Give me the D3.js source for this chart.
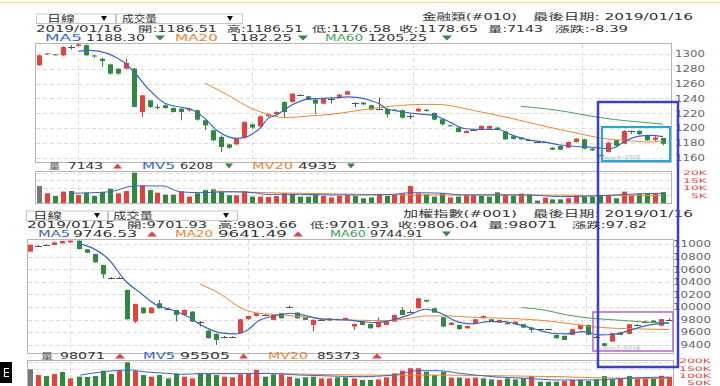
<!DOCTYPE html>
<html>
<head>
<meta charset="utf-8">
<script src="https://cdn.jsdelivr.net/npm/d3@7"></script>
<style>
  body { margin: 0; background: #fff; }
  svg { display: block; }
  text { font-family: "DejaVu Sans", "Noto Sans CJK TC", sans-serif; }
</style>
</head>
<body>
<svg id="chart" width="720" height="386"></svg>
<script>
const N = 80;

// 金融類 (#010) daily candles
const topOpen = [1284.7,1300,1299.5,1298.2,1309.5,1311,1312,1298,1293.7,1286,
  1280,1280.2,1280.2,1221.6,1237.4,1228.4,1230.7,1227,1226.1,1223.9,
  1223.9,1210.4,1196.9,1187.9,1177.9,1177.9,1187,1205,1202.3,1215.8,
  1218.5,1235.2,1235.2,1244,1242.8,1238.3,1232.9,1239.7,1241.9,1245.1,
  1234.3,1234.3,1230.7,1226,1225.7,1224.8,1223.9,1215.8,1222.5,1224.8,
  1220.3,1211.8,1203.6,1200.5,1193.3,1197.8,1197.8,1199.1,1200.5,1195.5,
  1188.8,1187,1183.3,1181.1,1181.1,1173.4,1175.7,1173.4,1181.1,1184.7,
  1172.1,1163,1167.6,1183.4,1178.8,1196,1196,1190.1,1184,1186.51];
const topHigh = [1299,1301.5,1300,1310.5,1312,1315,1313,1299,1294.5,1287,
  1281,1293.7,1281,1245,1238,1232,1232,1228,1227,1227,
  1225,1211,1197.5,1190,1179,1186.5,1209,1206,1217,1219.5,
  1222.5,1236,1247,1245.5,1243.5,1239,1240.5,1241.5,1246,1250.5,
  1234.6,1235,1231.5,1241,1226.5,1226,1225,1219,1227,1225.5,
  1221,1212.5,1204.5,1201,1196.8,1199,1203.5,1203.5,1201.5,1196.5,
  1189.5,1187.8,1184.5,1182.5,1182,1174,1176.5,1182,1186.5,1185.5,
  1172.8,1164,1181,1184,1197,1196.5,1196.8,1191,1189,1186.51];
const topLow = [1284,1299.5,1298.5,1297,1306,1310,1297,1295,1282.5,1272,
  1272,1279,1228,1214.9,1227,1225,1226,1221,1210.4,1222,
  1210,1196.9,1182,1167.6,1172,1177,1186,1199,1201,1215,
  1218,1214.9,1234,1243,1237.5,1218.5,1232,1233,1241,1244.5,
  1228.4,1231,1224,1225,1214,1223,1213,1212,1221.5,1222,
  1210.5,1203,1202.5,1194,1192.8,1196.5,1197,1198.5,1197,1184,
  1184.5,1183.5,1182,1180,1179.5,1170,1170,1173,1180.5,1171,
  1169,1162,1167,1175.5,1178,1192,1191,1182.5,1182,1176.58];
const topClose = [1298.2,1300.8,1299,1309.5,1309.5,1313,1298.2,1297,1290.6,1273.5,
  1273.5,1287.9,1228.4,1244.2,1228.4,1228,1227,1221.6,1221.6,1226.1,
  1211.3,1203.6,1183.4,1174.3,1173.4,1185.6,1208.1,1200.5,1215.8,1218.5,
  1221.6,1221.6,1246.4,1244,1238.3,1232.9,1239.7,1239.7,1245.1,1249.6,
  1234.3,1232,1224.8,1226,1218.5,1224.4,1214,1215.8,1226.1,1223,
  1211.3,1205,1203.2,1194.6,1196,1197.8,1202.7,1202.7,1197.8,1184.7,
  1185.2,1184.7,1183.3,1181.1,1181.1,1170.7,1170.7,1181.1,1185.6,1172.1,
  1169.8,1163,1180.2,1176.1,1196,1196,1191.5,1183.4,1187.04,1178.65];
const topVolume = [11200,6400,4600,7500,7900,5300,6800,4600,7200,9400,
  6400,7900,20000,11600,8500,6800,5500,5500,7700,4200,
  6400,8500,9000,7700,5100,5100,7700,4200,4200,4000,
  4600,6400,6000,4200,4200,5500,4600,3700,4600,5100,
  4600,3100,3700,6000,4600,5300,6400,11200,6400,5700,
  4200,6400,3700,4200,5100,5100,4600,4200,7000,5500,
  4800,6200,5700,1600,3500,2400,2400,3100,5300,4200,
  4200,5300,5300,3100,7500,4600,6000,6000,6400,7143];
// n = first bar, u = up vs previous close, d = down
const topVolDir = ["nudududddd","uudududduu","ddddduuduu","uudddduuuu",
  "ddduduuuud","dduduudddu","duddudduud","dduduuddud"].join("");
const topMA5 = [[5,1304],[6.5,1305],[10.75,1289],[12,1276],[14,1251],[16,1233],[18,1228],[19.5,1224],
  [21,1213],[22.5,1197],[24,1188],[25,1186],[26,1187],[27,1192],[28,1200],[29,1213],[30,1217],
  [31,1224],[32,1231],[33,1236],[34,1239],[36,1240],[38,1241],[39,1242],[40.5,1241],[42,1237],
  [43,1233],[44,1226],[46,1222],[48,1219],[50,1217],[52,1208],[54,1199],[56,1198],[58,1198],
  [60,1190],[62,1184],[64,1181],[66,1177],[68,1175],[70,1174],[72,1172],[73,1174],[74,1181],
  [76,1189],[77.4,1190],[79,1188.3]];
const topMA20 = [[21,1261],[24,1244],[27,1226],[29,1218.5],[31,1214],[34,1216],[37,1218.5],[40,1223],
  [43,1227.5],[46,1230.7],[49,1232],[51,1231.6],[54,1226],[57,1219.4],[60,1212.6],[63,1205],
  [66,1197.8],[69,1191],[71,1186.5],[73,1184.2],[75,1182.5],[77,1181.1],[79,1182.25]];
const topMA60 = [[61,1229.3],[64,1226.1],[67,1221.6],[70,1215.8],[73,1211.3],[76,1208.1],[79,1205.25]];
const topMV5 = [[4,6400],[9,7400],[12,11200],[15.7,11200],[17.8,7400],[20.4,6800],[24.6,7400],
  [27.1,6800],[28.8,5700],[33,5700],[37.2,5300],[40.6,5300],[44.8,5700],[47,6800],[51.2,6400],
  [53.3,5300],[61.7,5300],[66,4200],[70.2,4600],[74.4,5700],[78.6,6400],[79,6208]];
const topMV20 = [[22,7900],[24.6,7400],[28.8,6800],[33,6400],[40.6,5700],[49,5300],[61.7,5300],
  [70.2,5000],[79,4935]];
const topTicks = [1160,1180,1200,1220,1240,1260,1280,1300];
const topVolTicks = [5000,10000,15000,20000];

// 加權指數 (#001) daily candles
const bottomOpen = [10878,10973,10985,10984,11010,11026,11053,10915,10841,10667,
  10455,10466,10270,9767,9989,9900,10058,9968,9952,9873,
  9926,9765,9624,9572,9519,9520,9582,9804,9857,9873,
  9794,9900,9994,9910,9836,9714,9793,9783,9804,9794,
  9688,9767,9730,9677,9714,9767,9952,9924,9979,10111,
  9979,9836,9714,9714,9661,9741,9820,9804,9751,9751,
  9725,9725,9672,9646,9646,9556,9540,9556,9646,9714,
  9529,9423,9450,9593,9572,9713,9766,9783,9702,9795];
const bottomHigh = [10990,10985,10995,11030,11050,11058,11058,10920,10845,10670,
  10475,10480,10275,10050,9995,9995,10111,9985,9955,9960,
  9930,9775,9630,9578,9540,9535,9808,9862,9905,9885,
  9880,9905,10020,9915,9840,9800,9805,9825,9815,9830,
  9735,9772,9735,9836,9772,9878,9995,9950,10142,10115,
  9985,9840,9755,9720,9703,9808,9862,9808,9798,9755,
  9772,9730,9675,9655,9655,9560,9545,9650,9720,9720,
  9540,9428,9586,9598,9730,9725,9780,9788,9810,9812];
const bottomLow = [10870,10962,10975,10980,11005,11020,10915,10855,10700,10455,
  10440,10450,9800,9741,9895,9895,9975,9950,9767,9865,
  9760,9688,9498,9397,9500,9505,9578,9800,9850,9860,
  9790,9815,9985,9815,9790,9609,9780,9778,9795,9790,
  9635,9710,9655,9672,9710,9762,9868,9915,9975,10080,
  9905,9683,9708,9640,9655,9736,9815,9762,9746,9720,
  9720,9667,9593,9635,9635,9498,9470,9550,9640,9550,
  9515,9375,9445,9550,9566,9700,9755,9745,9700,9785];
const bottomClose = [10984,10973,10985,11026,11047,11053,10920,10862,10709,10518,
  10455,10466,9804,10048,9900,9989,9979,9968,9873,9952,
  9767,9765,9503,9476,9519,9520,9804,9857,9900,9873,
  9873,9820,9994,9820,9794,9794,9793,9820,9804,9826,
  9730,9714,9661,9767,9767,9873,9873,9924,10138,10085,
  9910,9688,9751,9646,9698,9804,9857,9767,9794,9725,
  9767,9672,9635,9646,9646,9503,9476,9646,9714,9556,
  9529,9381,9582,9556,9725,9713,9766,9751,9806.04,9795];
const bottomVolume = [150000,110000,103000,117000,131000,87000,99000,97000,103000,140000,
  117000,140000,198000,138000,110000,99000,110000,87000,120000,99000,
  87000,120000,120000,110000,99000,94000,115000,117000,145000,99000,
  115000,115000,99000,87000,94000,99000,87000,87000,94000,94000,
  87000,76000,76000,80000,94000,122000,140000,157000,157000,133000,
  110000,133000,92000,92000,87000,92000,87000,80000,76000,87000,
  80000,87000,103000,64000,64000,64000,69000,76000,76000,69000,
  80000,103000,80000,87000,103000,87000,94000,87000,105000,98071];
const bottomVolDir = ["nudududddd","dudududddu","uddduuuuud","duuddduudd",
  "udduuuuuud","dduduuddud","dduddduudd","ddduduuduu"].join("");
const bottomMA5 = [[5.9,11010],[7.8,10931],[9.8,10746],[11.7,10428],[13.7,10217],[15.6,10032],
  [17.6,9952],[19.5,9847],[21.5,9688],[23.4,9593],[25.4,9572],[26.9,9635],[28.3,9783],[30.3,9857],
  [32.2,9900],[34.2,9857],[36.2,9804],[39.1,9794],[41,9767],[43,9751],[44.9,9794],[46.9,9873],
  [48.9,9963],[50.8,9900],[52.8,9767],[54.7,9730],[56.7,9767],[58.6,9767],[60.6,9714],[62.5,9646],
  [64.5,9582],[66.4,9572],[68.4,9609],[70.3,9556],[72.3,9566],[74.3,9635],[76.6,9714],[79,9746.53]];
const bottomMA20 = [[21,10365],[23.4,10217],[26.4,9963],[28.3,9900],[31.3,9873],[34.2,9836],
  [39.1,9794],[44,9783],[46.9,9820],[48.9,9857],[51.8,9857],[54.7,9836],[58.6,9820],[62.5,9794],
  [66.4,9741],[69.4,9688],[72.3,9661],[75.2,9651],[79,9641.49]];
const bottomMA60 = [[60.8,9989],[63.5,9952],[66.4,9873],[69.4,9820],[72.3,9794],[75.2,9767],[79,9744.91]];
const bottomMV5 = [[6.2,110000],[12.4,145000],[14,133000],[16.9,122000],[18.6,115000],[21,119000],
  [25.1,119000],[29.3,122000],[33.4,110000],[37.5,103000],[40.8,99000],[44.9,110000],[48,140000],
  [50.5,140000],[53.1,122000],[57.2,99000],[61.3,87000],[65.4,76000],[69.5,76000],[73.6,87000],
  [75,92000],[79,95505]];
const bottomMV20 = [[20.4,122000],[25.1,122000],[33.4,117000],[40.8,110000],[49,110000],
  [57.2,106000],[65.4,99000],[73.6,87000],[79,85373]];
const bottomTicks = [9400,9600,9800,10000,10200,10400,10600,10800,11000];
const bottomVolTicks = [50000,100000,150000,200000];

// month boundaries, as candle index
const monthGrid = [4.9, 27, 47.4, 68.8];

const RED = "#e8413c", GREEN = "#2f8a3e", DOJI = "#555", GRID = "#dcdcdc";
const C_MA5 = "#3566c9", C_MA20 = "#f2842f", C_MA60 = "#45a05a";

const svg = d3.select("#chart");

const xTop = d3.scaleLinear().domain([0, N - 1]).range([39, 663]);
const yTop = d3.scaleLinear().domain([1160, 1300]).range([157.6, 54]);
const vTop = d3.scaleLinear().domain([0, 20000]).range([203, 172.6]);
const xBot = d3.scaleLinear().domain([0, N - 1]).range([30, 669]);
const yBot = d3.scaleLinear().domain([9400, 11000]).range([344.7, 244]);
const vBot = d3.scaleLinear().domain([0, 200000]).range([391, 362]);

// thin top strip
svg.append("line").attr("x1", 0).attr("x2", 720).attr("y1", 2.5).attr("y2", 2.5)
  .attr("stroke", "#f3dba0").attr("stroke-width", 1.5);

function frame(x0, x1, y0, y1) {
  svg.append("rect").attr("x", x0 + 0.5).attr("y", y0 + 0.5)
    .attr("width", x1 - x0).attr("height", y1 - y0)
    .attr("fill", "none").attr("stroke", "#b5b5b5");
}

function grid(x, y, ticks, x0, x1, y0, y1) {
  const g = svg.append("g").attr("stroke", GRID).attr("stroke-dasharray", "4,3");
  g.selectAll(null).data(ticks).join("line")
    .attr("x1", x0 + 1).attr("x2", x1)
    .attr("y1", d => Math.round(y(d)) + 0.5).attr("y2", d => Math.round(y(d)) + 0.5);
  g.selectAll(null).data(monthGrid).join("line")
    .attr("x1", d => Math.round(x(d)) + 0.5).attr("x2", d => Math.round(x(d)) + 0.5)
    .attr("y1", y0 + 1).attr("y2", y1);
}

function axis(scale, ticks, xPos, fmt, color, charW, size, dy) {
  svg.append("g").attr("transform", `translate(${xPos},0)`)
    .call(d3.axisLeft(scale).tickValues(ticks).tickSize(0).tickPadding(0).tickFormat(fmt))
    .call(g => g.select(".domain").remove())
    .selectAll("text")
    .attr("fill", color)
    .attr("dy", dy || "0.3em")
    .style("font-size", size + "px")
    .style("font-family", '"DejaVu Sans", sans-serif')
    .attr("textLength", function () { return this.textContent.length * charW; })
    .attr("lengthAdjust", "spacingAndGlyphs");
}

function candles(x, y, O, H, L, C) {
  const rows = O.map((o, i) => ({ i, o, h: H[i], l: L[i], c: C[i] }));
  const g = svg.append("g").selectAll("g").data(rows).join("g");
  const col = d => d.c > d.o ? RED : d.c < d.o ? GREEN : DOJI;
  g.append("line")
    .attr("x1", d => Math.round(x(d.i)) + 0.5).attr("x2", d => Math.round(x(d.i)) + 0.5)
    .attr("y1", d => y(d.h)).attr("y2", d => y(d.l))
    .attr("stroke", col);
  g.filter(d => d.c !== d.o).append("rect")
    .attr("x", d => Math.round(x(d.i)) - 2)
    .attr("y", d => y(Math.max(d.o, d.c)))
    .attr("width", 5)
    .attr("height", d => Math.max(1, y(Math.min(d.o, d.c)) - y(Math.max(d.o, d.c))))
    .attr("fill", col);
  g.filter(d => d.c === d.o).append("line")
    .attr("x1", d => Math.round(x(d.i)) - 3).attr("x2", d => Math.round(x(d.i)) + 4)
    .attr("y1", d => Math.round(y(d.o)) + 0.5).attr("y2", d => Math.round(y(d.o)) + 0.5)
    .attr("stroke", col);
}

function volumes(x, v, vals, dirs) {
  svg.append("g").selectAll("rect").data(vals).join("rect")
    .attr("x", (d, i) => Math.round(x(i)) - 2)
    .attr("y", d => v(d))
    .attr("width", 5)
    .attr("height", d => v(0) - v(d))
    .attr("fill", (d, i) => dirs[i] === "u" ? RED : dirs[i] === "d" ? GREEN : "#777");
}

function maLine(x, y, pts, color, w) {
  const line = d3.line().x(d => x(d[0])).y(d => y(d[1])).curve(d3.curveMonotoneX);
  svg.append("path").datum(pts).attr("d", line)
    .attr("fill", "none").attr("stroke", color).attr("stroke-width", w || 1);
}

// text stretched between two x positions
function seg(str, x0, x1, y, color, size) {
  svg.append("text").attr("x", x0).attr("y", y)
    .attr("textLength", x1 - x0).attr("lengthAdjust", "spacingAndGlyphs")
    .attr("fill", color || "#333").style("font-size", (size || 8.5) + "px")
    .text(str);
}

function tri(x0, x1, yc, up, color) {
  const h = 2.6;
  const p = up
    ? `M${x0},${yc + h}L${x1},${yc + h}L${(x0 + x1) / 2},${yc - h}Z`
    : `M${x0},${yc - h}L${x1},${yc - h}L${(x0 + x1) / 2},${yc + h}Z`;
  svg.append("path").attr("d", p).attr("fill", color);
}

function dropBox(x0, x1, y0, label, lx0, lx1, ax) {
  svg.append("rect").attr("x", x0 + 0.5).attr("y", y0 + 0.5).attr("width", x1 - x0).attr("height", 9.5)
    .attr("fill", "#fff").attr("stroke", "#c6c6c6");
  seg(label, lx0, lx1, y0 + 8.5, "#333", 9);
  tri(ax, ax + 6, y0 + 5, false, "#111");
}

// ---------- top chart: 金融類 ----------
dropBox(36, 115, 13.5, "日線", 47, 75, 101);
dropBox(116, 242, 13.5, "成交量", 122, 157, 227);
seg("金融類(#010)", 422, 517, 19.5, "#333", 9);
seg("最後日期: 2019/01/16", 533, 693, 19.5, "#333", 9);

seg("2019/01/16", 36, 122, 31.5);
seg("開:1186.51", 138, 217, 31.5);
seg("高:1186.51", 227, 303, 31.5);
seg("低:1176.58", 312, 391, 31.5);
seg("收:1178.65", 399, 478, 31.5);
seg("量:7143", 488, 543, 31.5);
seg("漲跌:-8.39", 555, 628, 31.5);

seg("MA5", 45, 82, 41, C_MA5);
seg("1188.30", 86, 145, 41);
tri(155, 165, 38, false, GREEN);
seg("MA20", 175, 218, 41, C_MA20);
seg("1182.25", 230, 292, 41);
tri(298, 308, 38, false, GREEN);
seg("MA60", 325, 363, 41, C_MA60);
seg("1205.25", 368, 427, 41);
tri(442, 452, 38, false, GREEN);

grid(xTop, yTop, topTicks, 35, 671, 43, 162);
frame(35, 671, 43, 162);
axis(yTop, topTicks, 705, d => d, "#666", 7.5, 9.5);
candles(xTop, yTop, topOpen, topHigh, topLow, topClose);
maLine(xTop, yTop, topMA20, C_MA20);
maLine(xTop, yTop, topMA60, C_MA60);
maLine(xTop, yTop, topMA5, C_MA5, 1.2);
seg("©CMoney法人投資決策", 598, 640, 160, "#bbb", 6);

seg("量", 49, 60, 168.5, "#555");
seg("7143", 68, 103, 168.5);
tri(113, 122, 166, true, RED);
seg("MV5", 142, 175, 168.5, C_MA5);
seg("6208", 180, 213, 168.5);
tri(225, 233, 166, false, GREEN);
seg("MV20", 252, 293, 168.5, C_MA20);
seg("4935", 298, 337, 168.5);
tri(347, 355, 166, false, GREEN);

grid(xTop, vTop, topVolTicks, 35, 671, 171, 203);
frame(35, 671, 171, 203);
axis(vTop, topVolTicks, 707, d => d / 1000 + "K", RED, 8, 6.2);
volumes(xTop, vTop, topVolume, topVolDir);
maLine(xTop, vTop, topMV20, C_MA20);
maLine(xTop, vTop, topMV5, C_MA5);

// ---------- bottom chart: 加權指數 ----------
dropBox(26, 107, 210.5, "日線", 33, 62, 94);
dropBox(108, 237, 210.5, "成交量", 113, 153, 223);
seg("加權指數(#001)", 403, 517, 216.5, "#333", 9);
seg("最後日期: 2019/01/16", 533, 693, 216.5, "#333", 9);

seg("2019/01/15", 27, 115, 227.5);
seg("開:9701.93", 127, 207, 227.5);
seg("高:9803.66", 218, 297, 227.5);
seg("低:9701.93", 310, 389, 227.5);
seg("收:9806.04", 398, 478, 227.5);
seg("量:98071", 488, 557, 227.5);
seg("漲跌:97.82", 572, 647, 227.5);

seg("MA5", 38, 70, 237, C_MA5);
seg("9746.53", 73, 137, 237);
tri(147, 157, 234, true, RED);
seg("MA20", 175, 213, 237, C_MA20);
seg("9641.49", 218, 287, 237);
tri(293, 303, 234, true, RED);
seg("MA60", 330, 366, 237, C_MA60);
seg("9744.91", 370, 423, 237);
tri(442, 451, 234, false, GREEN);

grid(xBot, yBot, bottomTicks, 27, 673, 239, 353);
frame(27, 673, 239, 353);
axis(yBot, bottomTicks, 711, d => d, "#666", 7.6, 9.5);
candles(xBot, yBot, bottomOpen, bottomHigh, bottomLow, bottomClose);
maLine(xBot, yBot, bottomMA20, C_MA20);
maLine(xBot, yBot, bottomMA60, C_MA60);
maLine(xBot, yBot, bottomMA5, C_MA5, 1.2);
seg("©CMoney法人投資決策", 596, 640, 350, "#bbb", 6);

seg("量", 41, 53, 358.5, "#555");
seg("98071", 60, 105, 358.5);
tri(115, 125, 356, true, RED);
seg("MV5", 143, 175, 358.5, C_MA5);
seg("95505", 180, 230, 358.5);
tri(239, 248, 356, true, RED);
seg("MV20", 268, 308, 358.5, C_MA20);
seg("85373", 317, 360, 358.5);
tri(372, 382, 356, true, RED);

grid(xBot, vBot, bottomVolTicks, 27, 673, 360, 392);
frame(27, 673, 360, 392);
axis(vBot, bottomVolTicks, 711, d => d / 1000 + "K", RED, 8, 6.2, "0.15em");
volumes(xBot, vBot, bottomVolume, bottomVolDir);
maLine(xBot, vBot, bottomMV20, C_MA20);
maLine(xBot, vBot, bottomMV5, C_MA5);

// ---------- highlight boxes drawn over the charts ----------
svg.append("rect").attr("x", 593).attr("y", 312).attr("width", 80).attr("height", 39)
  .attr("fill", "none").attr("stroke", "#b466c8").attr("stroke-width", 1.5);
svg.append("rect").attr("x", 602).attr("y", 127).attr("width", 68).attr("height", 34)
  .attr("fill", "none").attr("stroke", "#1ea8e4").attr("stroke-width", 2);
svg.append("rect").attr("x", 598).attr("y", 102).attr("width", 80).attr("height", 265)
  .attr("fill", "none").attr("stroke", "#3b3fd0").attr("stroke-width", 2.5);

// small black tab at bottom left
svg.append("rect").attr("x", 0).attr("y", 362).attr("width", 12).attr("height", 21).attr("fill", "#000");
svg.append("path").attr("d", "M4,368.5H9M4,372.5H9M4,376.5H9M4.5,368V377")
  .attr("stroke", "#fff").attr("stroke-width", 1.2);
</script>
</body>
</html>
